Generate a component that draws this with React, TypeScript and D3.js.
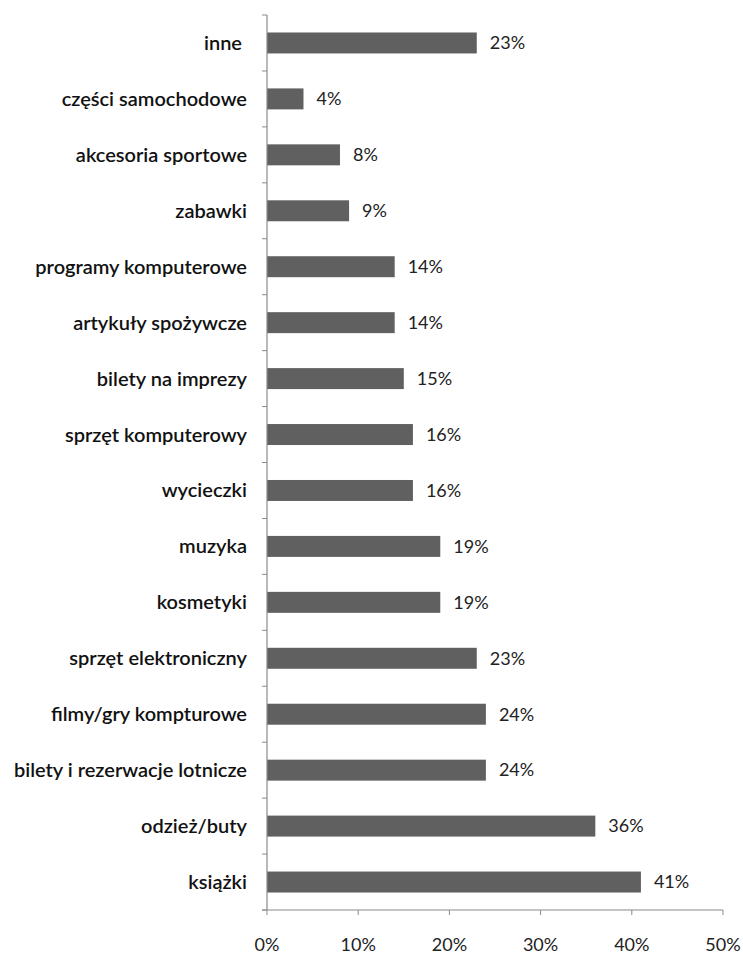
import React from "react";
import * as d3 from "d3";

const categories = [
  "inne",
  "części samochodowe",
  "akcesoria sportowe",
  "zabawki",
  "programy komputerowe",
  "artykuły spożywcze",
  "bilety na imprezy",
  "sprzęt komputerowy",
  "wycieczki",
  "muzyka",
  "kosmetyki",
  "sprzęt elektroniczny",
  "filmy/gry kompturowe",
  "bilety i rezerwacje lotnicze",
  "odzież/buty",
  "książki",
];
const values = [23, 4, 8, 9, 14, 14, 15, 16, 16, 19, 19, 23, 24, 24, 36, 41];
const xTicks = [0, 10, 20, 30, 40, 50];

const W = 743;
const H = 954;
const left = 267;
const right = 723;
const top = 15;
const bottom = 910;
const font = "Lato, 'Open Sans', sans-serif";

export default function App() {
  const x = d3.scaleLinear().domain([0, 50]).range([left, right]);
  const y = d3.scaleBand<string>().domain(categories).range([top, bottom]).paddingInner(0.625).paddingOuter(0.3125);
  const bandStep = (bottom - top) / categories.length;
  const boundaries = d3.range(categories.length + 1).map((i) => top + i * bandStep);
  return (
    <svg width={W} height={H} style={{ position: "absolute", left: 0, top: 0, background: "#fff" }}>
      {categories.map((c, i) => (
        <g key={c}>
          <rect x={x(0)} y={y(c)!} width={x(values[i]) - x(0)} height={y.bandwidth()} fill="#606060" />
          <text
            x={x(values[i]) + 13}
            y={y(c)! + y.bandwidth() / 2}
            dy="0.35em"
            fontFamily={font}
            fontSize={18}
            fill="#222"
          >
            {values[i]}%
          </text>
          <text
            x={c === "inne" ? 242 : 247}
            y={y(c)! + y.bandwidth() / 2}
            dy="0.35em"
            textAnchor="end"
            fontFamily={font}
            fontSize={20}
            fontWeight={600}
            fill="#111"
          >
            {c}
          </text>
        </g>
      ))}
      <line x1={left} x2={left} y1={top} y2={bottom} stroke="#8a8a8a" strokeWidth={1.2} />
      {boundaries.map((b, i) => (
        <line key={i} x1={left - 5} x2={left} y1={b} y2={b} stroke="#8a8a8a" strokeWidth={1} />
      ))}
      <line x1={left - 5} x2={right} y1={bottom} y2={bottom} stroke="#8a8a8a" strokeWidth={1.2} />
      {xTicks.map((t) => (
        <g key={t}>
          <line x1={x(t)} x2={x(t)} y1={bottom} y2={bottom + 5} stroke="#8a8a8a" strokeWidth={1} />
          <text x={x(t)} y={bottom + 35} textAnchor="middle" dy="0.35em" fontFamily={font} fontSize={18} fill="#222">
            {t}%
          </text>
        </g>
      ))}
    </svg>
  );
}
